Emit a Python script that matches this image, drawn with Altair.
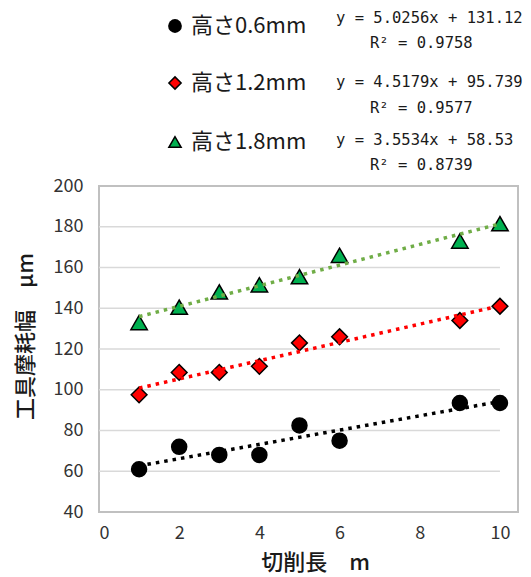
import altair as alt
import pandas as pd

# ---- data ----
series_names = ["高さ0.6mm", "高さ1.2mm", "高さ1.8mm"]
x_vals = [1, 2, 3, 4, 5, 6, 9, 10]
y_06 = [61, 72, 68, 68, 82.5, 75, 93.5, 93.5]
y_12 = [97.5, 108.5, 108.5, 111.5, 123, 126, 134, 141]
y_18 = [133, 140.5, 148, 151.5, 155.5, 166, 173, 181.5]
equations = ["y = 5.0256x + 131.12", "y = 4.5179x + 95.739", "y = 3.5534x + 58.53"]
r2_texts = ["R² = 0.9758", "R² = 0.9577", "R² = 0.8739"]
y_ticks = [40, 60, 80, 100, 120, 140, 160, 180, 200]
x_ticks = [0, 2, 4, 6, 8, 10]
grid_vals = [60, 80, 100, 120, 140, 160, 180]

fill_colors = ["#000000", "#ff0000", "#00b050"]
line_colors = ["#000000", "#ff0000", "#70ad47"]
shapes = ["circle", "diamond", "triangle-up"]
sizes = [225, 270, 270]

rows = []
for name, ys in zip(series_names, [y_06, y_12, y_18]):
    for xv, yv in zip(x_vals, ys):
        rows.append({"series": name, "x": xv, "y": yv})
df = pd.DataFrame(rows)
grid_df = pd.DataFrame({"g": grid_vals})

JP = "Noto Sans CJK JP"

xscale = alt.Scale(domain=[0, 10.45], nice=False, zero=False)
yscale = alt.Scale(domain=[40, 200], nice=False, zero=False)

x_enc = alt.X("x:Q", scale=xscale, axis=alt.Axis(
    values=x_ticks, title="切削長　m", titleFont=JP, titleFontSize=22,
    titleFontWeight=500, titleColor="#1a1a1a", titleX=216, titleY=50,
    titleBaseline="middle", titleAlign="center", labelPadding=12))
y_enc = alt.Y("y:Q", scale=yscale, axis=alt.Axis(
    values=y_ticks, title="工具摩耗幅　μm", titleFont=JP, titleFontSize=22,
    titleFontWeight=500, titleColor="#1a1a1a", titleAngle=-90,
    titleX=-74, titleY=150, titleBaseline="middle", titleAlign="center",
    labelPadding=16))

grid = alt.Chart(grid_df).mark_rule(color="#d9d9d9", strokeWidth=1.5).encode(
    y=alt.Y("g:Q", scale=yscale),
    x=alt.datum(0),
    x2=alt.datum(10),
)

points = alt.Chart(df).mark_point(filled=True, stroke="#000000", strokeWidth=1.5, opacity=1).encode(
    x=x_enc,
    y=y_enc,
    fill=alt.Fill("series:N", scale=alt.Scale(domain=series_names, range=fill_colors), legend=None),
    shape=alt.Shape("series:N", scale=alt.Scale(domain=series_names, range=shapes), legend=None),
    size=alt.Size("series:N", scale=alt.Scale(domain=series_names, range=sizes), legend=None),
)

trend = alt.Chart(df).transform_regression(
    "x", "y", groupby=["series"], extent=[1, 10]
).mark_line(strokeWidth=3.5, strokeDash=[3.5, 5]).encode(
    x=alt.X("x:Q", scale=xscale),
    y=alt.Y("y:Q", scale=yscale),
    stroke=alt.Stroke("series:N", scale=alt.Scale(domain=series_names, range=line_colors), legend=None),
    detail="series:N",
)

# ---- custom legend (top area) ----
legend_layers = []
row_y = [-160, -103, -44]
eq_y = [-168, -104, -46]
r2_y = [-143, -78, -21]
legend_sizes = [190, 150, 150]
for i in range(3):
    ldf = pd.DataFrame({"series": [series_names[i]], "eq": [equations[i]], "r2": [r2_texts[i]]})
    base = alt.Chart(ldf)
    sym = base.mark_point(filled=True, fill=fill_colors[i], stroke="#000000",
                          strokeWidth=1.5 if i > 0 else 0, opacity=1,
                          shape=shapes[i], size=legend_sizes[i]).encode(
        x=alt.value(76), y=alt.value(row_y[i]))
    name = base.mark_text(align="left", baseline="middle", font=JP, fontSize=22,
                          color="#1a1a1a").encode(
        text="series:N", x=alt.value(92), y=alt.value(row_y[i]))
    eq = base.mark_text(align="left", baseline="middle", font="DejaVu Sans Mono",
                        fontSize=15.5, color="#1a1a1a").encode(
        text="eq:N", x=alt.value(237), y=alt.value(eq_y[i]))
    r2 = base.mark_text(align="left", baseline="middle", font="DejaVu Sans Mono",
                        fontSize=15.5, color="#1a1a1a").encode(
        text="r2:N", x=alt.value(271), y=alt.value(r2_y[i]))
    legend_layers += [sym, name, eq, r2]

chart = alt.layer(grid, points, trend, *legend_layers).properties(
    width=419, height=326,
    autosize=alt.AutoSizeParams(type="none"),
    padding={"left": 91, "top": 178, "right": 5, "bottom": 62},
).configure_view(
    stroke="#c0c0c0", strokeWidth=2
).configure_axis(
    domain=False, ticks=False, grid=False,
    labelFont=JP, labelFontSize=18, labelColor="#333333",
)

chart.save("out.html", embed_options={"renderer": "svg", "actions": False})
